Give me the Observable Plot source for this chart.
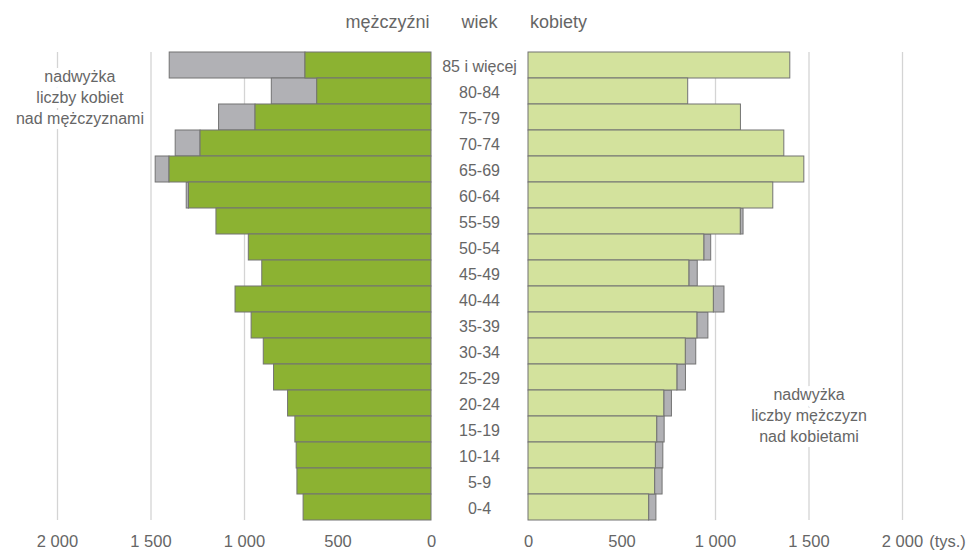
<!DOCTYPE html>
<html>
<head>
<meta charset="utf-8">
<script src="https://cdn.jsdelivr.net/npm/d3@7"></script>
<script src="https://cdn.jsdelivr.net/npm/@observablehq/plot@0.6"></script>
<style>
  body { margin: 0; background: white; }
  #chart { position: relative; width: 966px; height: 551px; }
  #chart svg { position: absolute; left: 0; top: 0; }
</style>
</head>
<body>
<div id="chart"></div>
<script>
const ages = ["85 i więcej","80-84","75-79","70-74","65-69","60-64","55-59","50-54","45-49","40-44","35-39","30-34","25-29","20-24","15-19","10-14","5-9","0-4"];
const men   = [674, 611, 941, 1235, 1401, 1297, 1150, 977, 905, 1048, 962, 897, 842, 767, 728, 721, 717, 684];
const women = [1400, 854, 1136, 1368, 1475, 1309, 1135, 940, 860, 991, 903, 841, 796, 726, 688, 681, 677, 645];
const tickValues = [0, 500, 1000, 1500, 2000];
const gridValues = [500, 1000, 1500, 2000];
const headerMen = "mężczyźni", headerAge = "wiek", headerWomen = "kobiety";
const noteMen = "nadwyżka\nliczby kobiet\nnad mężczyznami";
const noteWomen = "nadwyżka\nliczby mężczyzn\nnad kobietami";
const unitLabel = "(tys.)";

const data = ages.map((age, i) => ({age, men: men[i], women: women[i]}));
const fmt = d3.formatLocale({decimal: ",", thousands: " ", grouping: [3], currency: ["", ""]}).format(",");

const FONT = "'Liberation Sans', Arial, sans-serif";
const TXT = "#666666";
const DARK = "#8cb232", LIGHT = "#d3e29d", GRAY = "#b1b1b5", EDGE = "#737373", GRID = "#d4d4d4";

const common = {
  width: 966, height: 551, marginTop: 52, marginBottom: 31,
  y: {domain: ages, padding: 0, axis: null},
  style: {fontFamily: FONT, fontSize: "16px", color: TXT, background: "transparent", overflow: "visible"}
};

const left = Plot.plot({
  ...common,
  marginLeft: 57, marginRight: 535,
  x: {domain: [0, 2000], reverse: true, axis: null},
  marks: [
    Plot.ruleX(gridValues, {stroke: GRID, strokeWidth: 1.3}),
    Plot.barX(data.filter(d => d.women > d.men), {x1: "men", x2: "women", y: "age", fill: GRAY, stroke: EDGE, strokeWidth: 1, inset: 0}),
    Plot.barX(data, {x: "men", y: "age", fill: DARK, stroke: EDGE, strokeWidth: 1, inset: 0}),
    Plot.axisX(tickValues, {anchor: "bottom", tickSize: 0, tickPadding: 15, tickFormat: fmt, fill: TXT, fontSize: 16.5, label: null}),
    Plot.text(data, {x: 0, y: "age", text: "age", dx: 48, dy: 1, fill: TXT, fontSize: 16}),
    Plot.text([headerMen], {x: 0, dx: -44, frameAnchor: "top", lineAnchor: "middle", dy: -30, fill: TXT, fontSize: 18}),
    Plot.text([headerAge], {x: 0, dx: 48, frameAnchor: "top", lineAnchor: "middle", dy: -30, fill: TXT, fontSize: 18}),
    Plot.text([noteMen], {x: 1880, frameAnchor: "top", lineAnchor: "middle", dy: 44, fill: TXT, fontSize: 16, lineHeight: 1.3, stroke: "white", strokeWidth: 10})
  ]
});

const right = Plot.plot({
  ...common,
  marginLeft: 528, marginRight: 64,
  x: {domain: [0, 2000], axis: null},
  marks: [
    Plot.ruleX(gridValues, {stroke: GRID, strokeWidth: 1.3}),
    Plot.barX(data.filter(d => d.men > d.women), {x1: "women", x2: "men", y: "age", fill: GRAY, stroke: EDGE, strokeWidth: 1, inset: 0}),
    Plot.barX(data, {x: "women", y: "age", fill: LIGHT, stroke: EDGE, strokeWidth: 1, inset: 0}),
    Plot.axisX(tickValues, {anchor: "bottom", tickSize: 0, tickPadding: 15, tickFormat: fmt, fill: TXT, fontSize: 16.5, label: null}),
    Plot.text([unitLabel], {x: 2000, dx: 45, frameAnchor: "bottom", lineAnchor: "middle", dy: 21, fill: TXT, fontSize: 16.5}),
    Plot.text([headerWomen], {x: 0, dx: 30, frameAnchor: "top", lineAnchor: "middle", dy: -30, fill: TXT, fontSize: 18}),
    Plot.text([noteWomen], {x: 1500, frameAnchor: "bottom", lineAnchor: "middle", dy: -106, fill: TXT, fontSize: 16, lineHeight: 1.3, stroke: "white", strokeWidth: 10})
  ]
});

const el = document.getElementById("chart");
el.appendChild(left);
el.appendChild(right);
</script>
</body>
</html>
